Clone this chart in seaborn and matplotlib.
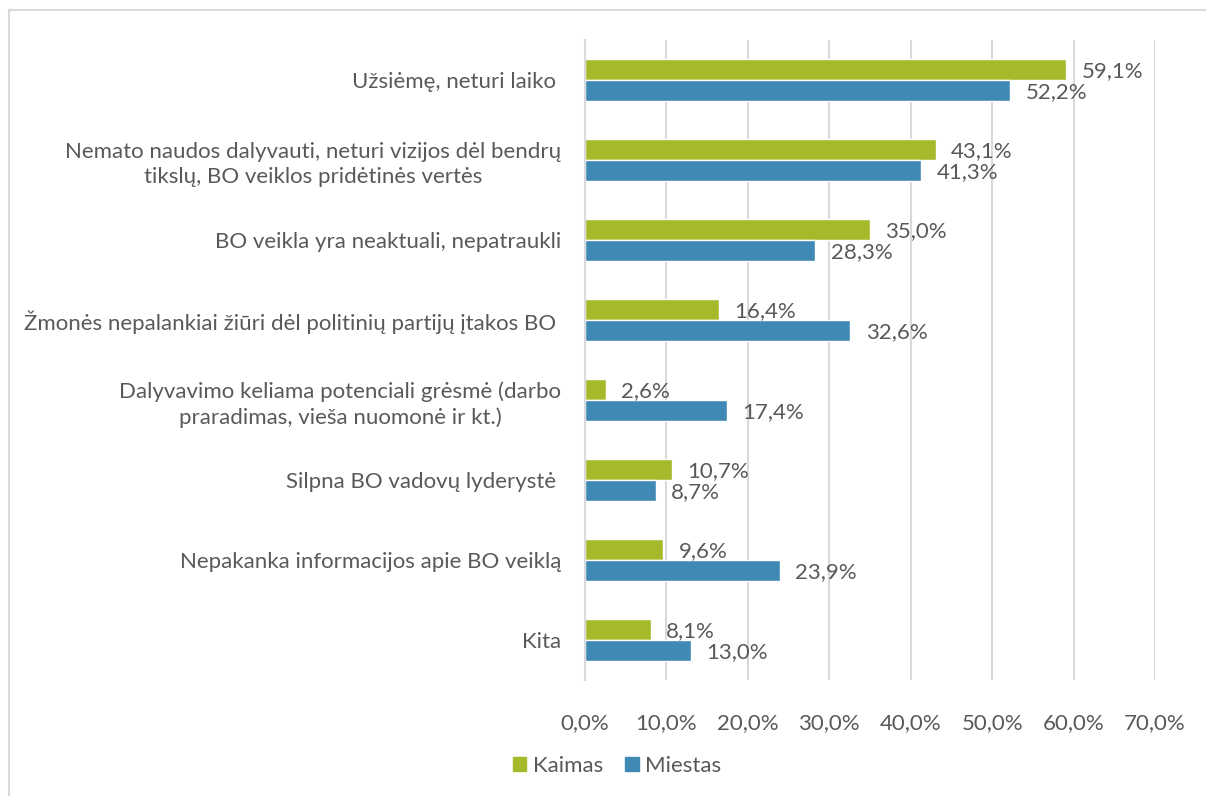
import matplotlib
matplotlib.use("Agg")
import matplotlib.pyplot as plt
import matplotlib.patches as mpatches
import seaborn as sns
import pandas as pd

categories = [
    "Užsiėmę, neturi laiko ",
    "Nemato naudos dalyvauti, neturi vizijos dėl bendrų\ntikslų, BO veiklos pridėtinės vertės",
    "BO veikla yra neaktuali, nepatraukli",
    "Žmonės nepalankiai žiūri dėl politinių partijų įtakos BO ",
    "Dalyvavimo keliama potenciali grėsmė (darbo\npraradimas, vieša nuomonė ir kt.)",
    "Silpna BO vadovų lyderystė ",
    "Nepakanka informacijos apie BO veiklą",
    "Kita",
]
series = ["Kaimas", "Miestas"]
kaimas = [59.1, 43.1, 35.0, 16.4, 2.6, 10.7, 9.6, 8.1]
miestas = [52.2, 41.3, 28.3, 32.6, 17.4, 8.7, 23.9, 13.0]
xticks = [0, 10, 20, 30, 40, 50, 60, 70]

df = pd.DataFrame({
    "cat": categories * 2,
    "series": [series[0]] * len(categories) + [series[1]] * len(categories),
    "value": kaimas + miestas,
})

sns.set_theme(style="white")
plt.rcParams["font.family"] = ["Lato", "DejaVu Sans"]
text_color = "#595959"
colors = {"Kaimas": "#A6B92B", "Miestas": "#4189B5"}
fs = 16

fig = plt.figure(figsize=(12.06, 7.96), dpi=100)
ax = fig.add_axes([585 / 1206, 1 - 680 / 796, (1155 - 585) / 1206, (680 - 40) / 796])

sns.barplot(data=df, y="cat", x="value", hue="series", hue_order=series,
            order=categories, palette=colors, orient="h", width=0.52, gap=0,
            ax=ax, legend=False, saturation=1)

for cont in ax.containers:
    for rect in cont:
        w = rect.get_width()
        ax.annotate(f"{w:.1f}%".replace(".", ","),
                    xy=(w, rect.get_y() + rect.get_height() / 2),
                    xytext=(11, -1), textcoords="offset points",
                    ha="left", va="center", fontsize=fs, color=text_color)

ax.set_xlim(0, 70)
ax.set_xticks(xticks)
ax.set_xticklabels([f"{t:.1f}%".replace(".", ",") for t in xticks], fontsize=fs, color=text_color)
ax.tick_params(axis="x", length=0, pad=24)
ax.tick_params(axis="y", length=0, pad=17)
for lbl in ax.get_yticklabels():
    lbl.set_fontsize(fs)
    lbl.set_color(text_color)
    lbl.set_multialignment("center")
    lbl.set_linespacing(1.3)
ax.set_xlabel("")
ax.set_ylabel("")
ax.grid(axis="x", color="#D9D9D9", linewidth=1.5)
ax.set_axisbelow(True)
for s in ["top", "right", "bottom"]:
    ax.spines[s].set_visible(False)
ax.spines["left"].set_color("#D9D9D9")
ax.spines["left"].set_linewidth(1.5)

handles = [mpatches.Patch(color=colors[s], label=s) for s in series]
fig.legend(handles=handles, loc="center", bbox_to_anchor=(617 / 1206, 1 - 766 / 796),
           ncol=2, frameon=False, fontsize=fs, handlelength=0.6, handleheight=0.6,
           handletextpad=0.3, columnspacing=1.0, labelcolor=text_color)

border = mpatches.Rectangle((9 / 1206, -0.05), 1.1, 1 - 10 / 796 + 0.05,
                            transform=fig.transFigure, fill=False,
                            edgecolor="#D9D9D9", linewidth=1.5)
fig.patches.append(border)

fig.savefig("out.png", dpi=100)
